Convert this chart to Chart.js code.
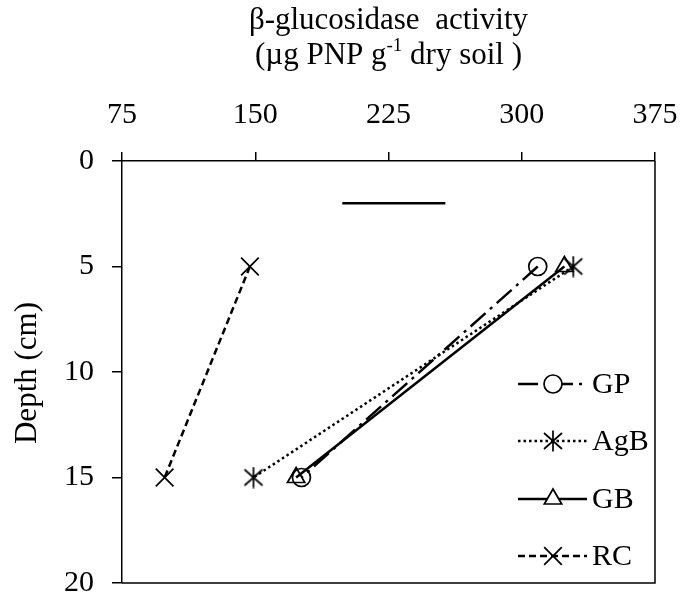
<!DOCTYPE html>
<html>
<head>
<meta charset="utf-8">
<script src="https://cdn.jsdelivr.net/npm/chart.js@4/dist/chart.umd.min.js"></script>
<style>
  html, body { margin: 0; padding: 0; background: #fff; overflow: hidden; }
  #wrap { width: 683px; height: 599px; }
  canvas { display: block; }
</style>
</head>
<body>
<div id="wrap"><canvas id="enzymeChart" width="683" height="599"></canvas></div>
<script>
// depth (cm) and beta-glucosidase activity per treatment
const depths = [5, 15];
const gpValues = [309, 176];
const agbValues = [329, 149];
const gbValues = [324, 173];
const rcValues = [147, 99];

// LSD bar at 2 cm
const lsdDepth = 2;
const lsdRange = [199, 257];

const xTicks = [75, 150, 225, 300, 375];
const yTicks = [0, 5, 10, 15, 20];

const FONT = 'Liberation Serif, Times New Roman, serif';

// asterisk marker (x with a vertical bar) for AgB
function makeAsterisk() {
    const c = document.createElement('canvas');
    c.width = 22;
    c.height = 22;
    const g = c.getContext('2d');
    g.strokeStyle = '#000';
    g.lineWidth = 1.7;
    g.beginPath();
    g.moveTo(2, 3); g.lineTo(20, 19);
    g.moveTo(20, 3); g.lineTo(2, 19);
    g.moveTo(11, 0.5); g.lineTo(11, 21.5);
    g.stroke();
    return c;
}
const asterisk = makeAsterisk();

function toPoints(values) {
    return depths.map((d, i) => ({ x: values[i], y: d }));
}

const series = [
    { label: 'GP', values: gpValues, dash: [20, 6, 3, 6], style: 'circle', radius: 9 },
    { label: 'AgB', values: agbValues, dash: [2.5, 3], style: asterisk, radius: 10 },
    { label: 'GB', values: gbValues, dash: [], style: 'triangle', radius: 10 },
    { label: 'RC', values: rcValues, dash: [7, 4], style: 'crossRot', radius: 12.5 }
];

const datasets = series.map(s => ({
    label: s.label,
    data: toPoints(s.values),
    showLine: true,
    borderColor: '#000',
    backgroundColor: 'rgba(0,0,0,0)',
    borderWidth: 2.5,
    borderDash: s.dash,
    pointStyle: s.style,
    pointRadius: s.radius,
    pointBorderWidth: 1.7,
    pointBorderColor: '#000',
    pointBackgroundColor: 'rgba(0,0,0,0)'
}));

datasets.push({
    label: 'LSD',
    data: lsdRange.map(v => ({ x: v, y: lsdDepth })),
    showLine: true,
    borderColor: '#000',
    borderWidth: 2.5,
    pointRadius: 0
});

// titles, box and legend drawn by hand
const decorPlugin = {
    id: 'decor',
    afterDraw(chart) {
        const ctx = chart.ctx;
        const area = chart.chartArea;
        ctx.save();
        ctx.strokeStyle = '#000';
        ctx.lineWidth = 1.5;
        ctx.beginPath();
        ctx.moveTo(area.right, area.top);
        ctx.lineTo(area.right, area.bottom);
        ctx.lineTo(area.left, area.bottom);
        ctx.stroke();

        // x title, two lines with superscript
        const cx = (area.left + area.right) / 2;
        ctx.fillStyle = '#000';
        ctx.font = '31px ' + FONT;
        ctx.textBaseline = 'alphabetic';
        ctx.textAlign = 'center';
        ctx.fillText('\u03b2-glucosidase  activity', cx, 29);

        const a = '(\u00b5g PNP g';
        const sup = '-1';
        const b = ' dry soil )';
        const wa = ctx.measureText(a).width;
        const wb = ctx.measureText(b).width;
        ctx.font = '19px ' + FONT;
        const ws = ctx.measureText(sup).width;
        let x0 = cx - (wa + ws + wb) / 2;
        ctx.textAlign = 'left';
        ctx.font = '31px ' + FONT;
        ctx.fillText(a, x0, 64);
        ctx.font = '19px ' + FONT;
        ctx.fillText(sup, x0 + wa, 51);
        ctx.font = '31px ' + FONT;
        ctx.fillText(b, x0 + wa + ws, 64);

        // y title
        ctx.save();
        ctx.translate(28, 373);
        ctx.rotate(-Math.PI / 2);
        ctx.textAlign = 'center';
        ctx.textBaseline = 'middle';
        ctx.fillText('Depth (cm)', 0, 0);
        ctx.restore();

        // legend
        const legendY = [384, 441, 499, 556];
        ctx.font = '30px ' + FONT;
        series.forEach((s, i) => {
            const y = legendY[i];
            ctx.save();
            ctx.lineWidth = 2.5;
            ctx.setLineDash(s.dash);
            ctx.beginPath();
            ctx.moveTo(518, y);
            ctx.lineTo(587, y);
            ctx.stroke();
            ctx.restore();
            ctx.save();
            ctx.strokeStyle = '#000';
            ctx.fillStyle = '#fff';
            ctx.lineWidth = 1.7;
            Chart.helpers.drawPoint(ctx, {
                pointStyle: s.style, radius: s.radius, rotation: 0, borderWidth: 1.7
            }, 553, y);
            ctx.restore();
            ctx.textAlign = 'left';
            ctx.textBaseline = 'middle';
            ctx.fillText(s.label, 592, y + 1);
        });
        ctx.restore();
    }
};

const tickFont = { family: FONT, size: 30 };

// keep tick label overhang from shrinking the plot box
function noPad(s) {
    s.paddingLeft = 0;
    s.paddingRight = 0;
    s.paddingTop = 0;
    s.paddingBottom = 0;
}

new Chart(document.getElementById('enzymeChart'), {
    type: 'scatter',
    data: { datasets },
    options: {
        responsive: false,
        animation: false,
        layout: { padding: { left: 0, right: 28, top: 0, bottom: 16 } },
        plugins: {
            legend: { display: false },
            tooltip: { enabled: false }
        },
        scales: {
            x: {
                type: 'linear',
                position: 'top',
                min: xTicks[0],
                max: xTicks[xTicks.length - 1],
                afterBuildTicks: s => { s.ticks = xTicks.map(v => ({ value: v })); },
                afterFit: s => { s.height = 161; noPad(s); },
                ticks: { color: '#000', font: tickFont, padding: 19, maxRotation: 0 },
                grid: { drawOnChartArea: false, tickLength: 9, color: '#000', lineWidth: 1.5 },
                border: { display: true, color: '#000', width: 1.5 }
            },
            y: {
                type: 'linear',
                reverse: true,
                min: yTicks[0],
                max: yTicks[yTicks.length - 1],
                afterBuildTicks: s => { s.ticks = yTicks.map(v => ({ value: v })); },
                afterFit: s => { s.width = 122; noPad(s); },
                ticks: { color: '#000', font: tickFont, padding: 18 },
                grid: { drawOnChartArea: false, tickLength: 10, color: '#000', lineWidth: 1.5 },
                border: { display: true, color: '#000', width: 1.5 }
            }
        }
    },
    plugins: [decorPlugin]
});
</script>
</body>
</html>
